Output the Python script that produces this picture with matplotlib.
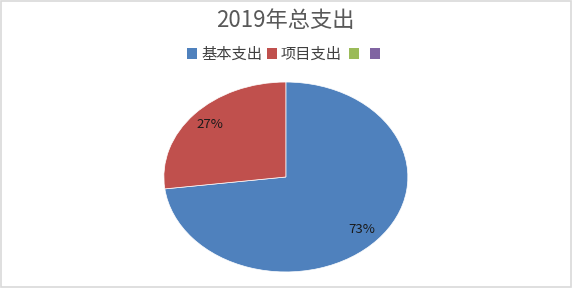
import matplotlib.pyplot as plt
from matplotlib.patches import Patch, Rectangle

plt.rcParams['font.family'] = ['Noto Sans CJK SC', 'DejaVu Sans']

title = '2019年总支出'
categories = ['基本支出', '项目支出', '', '']
values = [73, 27, 0, 0]
colors = ['#4F81BD', '#C0504D', '#9BBB59', '#8064A2']

fig = plt.figure(figsize=(5.75, 2.94), dpi=100)

# border around the chart area
fig.patches.append(Rectangle((0.002, 0.024), 0.991, 0.974, transform=fig.transFigure,
                             fill=False, edgecolor='#D9D9D9', linewidth=1.2))

ax = fig.add_axes([0.285, 0.075, 0.4243, 0.646])
ax.pie(values[:2], colors=colors[:2], startangle=90, counterclock=False,
       autopct='%d%%', pctdistance=0.83,
       wedgeprops=dict(edgecolor='white', linewidth=0.5),
       textprops=dict(fontsize=9.5, color='#1a1a1a', fontweight='medium'))
ax.set_aspect('auto')
ax.set_xlim(-1, 1)
ax.set_ylim(-1, 1)
ax.axis('off')

fig.text(0.497, 0.93, title, ha='center', va='center', fontsize=16, color='#595959')

handles = [Patch(facecolor=c) for c in colors]
leg_kw = dict(frameon=False, fontsize=11, handlelength=0.65, handleheight=0.65,
              handletextpad=0.25, columnspacing=0.3, labelcolor='#404040',
              borderpad=0, borderaxespad=0, loc='center left')
leg1 = fig.legend(handles[:2], categories[:2], ncol=2, bbox_to_anchor=(0.326, 0.815), **leg_kw)
leg2 = fig.legend(handles[2:], categories[2:], ncol=2, bbox_to_anchor=(0.607, 0.815),
                  **{**leg_kw, 'columnspacing': 0.45})

fig.savefig('out.png', dpi=100)
